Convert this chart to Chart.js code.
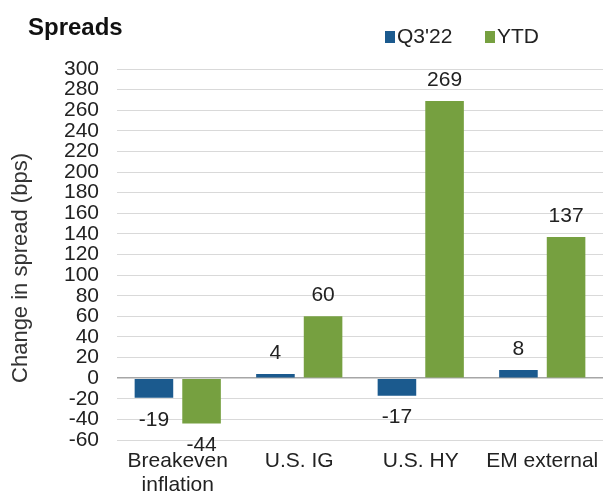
<!DOCTYPE html>
<html>
<head>
<meta charset="utf-8">
<script src="https://cdn.jsdelivr.net/npm/chart.js@4"></script>
<style>
  html, body { margin: 0; padding: 0; background: #ffffff; }
  #wrap { width: 603px; height: 496px; position: relative; }
</style>
</head>
<body>
<div id="wrap"><canvas id="c" width="603" height="496"></canvas></div>
<script>
const chartTitle = 'Spreads';
const categories = [['Breakeven', 'inflation'], 'U.S. IG', 'U.S. HY', 'EM external'];
const seriesNames = ["Q3'22", 'YTD'];
const q3Values = [-19, 4, -17, 8];
const ytdValues = [-44, 60, 269, 137];
const yMin = -60, yMax = 300, yStep = 20;
const yTitle = 'Change in spread (bps)';

const BLUE = '#1B5A8E';
const GREEN = '#76A040';
const FONT = "'Liberation Sans', Arial, sans-serif";

const overlay = {
  id: 'overlay',
  afterDatasetsDraw(chart) {
    const ctx = chart.ctx;
    ctx.save();
    ctx.font = '21px ' + FONT;
    ctx.fillStyle = '#222222';
    ctx.textAlign = 'center';
    ctx.textBaseline = 'middle';
    chart.data.datasets.forEach((ds, di) => {
      const meta = chart.getDatasetMeta(di);
      meta.data.forEach((el, i) => {
        const v = ds.data[i];
        const y = v >= 0 ? el.y - 21 : el.y + 22;
        ctx.fillText(String(v), el.x, y);
      });
    });
    ctx.restore();
  },
  afterDraw(chart) {
    const ctx = chart.ctx;
    ctx.save();
    // title
    ctx.font = 'bold 24px ' + FONT;
    ctx.fillStyle = '#111111';
    ctx.textAlign = 'left';
    ctx.textBaseline = 'middle';
    ctx.fillText(chartTitle, 28, 28);
    // legend
    ctx.font = '21px ' + FONT;
    const items = [
      { x: 385, color: chart.data.datasets[0].backgroundColor, label: chart.data.datasets[0].label },
      { x: 485, color: chart.data.datasets[1].backgroundColor, label: chart.data.datasets[1].label }
    ];
    items.forEach(it => {
      ctx.fillStyle = it.color;
      ctx.fillRect(it.x, 31, 10, 12);
      ctx.fillStyle = '#222222';
      ctx.fillText(it.label, it.x + 12, 37);
    });
    // y axis title
    ctx.translate(21, 268);
    ctx.rotate(-Math.PI / 2);
    ctx.font = '22px ' + FONT;
    ctx.fillStyle = '#333333';
    ctx.textAlign = 'center';
    ctx.textBaseline = 'middle';
    ctx.fillText(yTitle, 0, 0);
    ctx.restore();
  }
};

new Chart(document.getElementById('c'), {
  type: 'bar',
  data: {
    labels: categories,
    datasets: [
      { label: seriesNames[0], data: q3Values, backgroundColor: BLUE },
      { label: seriesNames[1], data: ytdValues, backgroundColor: GREEN }
    ]
  },
  options: {
    responsive: false,
    animation: false,
    devicePixelRatio: 1,
    layout: { padding: { top: 69, left: 0, right: -4, bottom: 0 } },
    datasets: { bar: { categoryPercentage: 0.784, barPercentage: 0.81 } },
    plugins: { legend: { display: false }, title: { display: false }, tooltip: { enabled: false } },
    scales: {
      x: {
        afterFit(scale) { scale.height = 56; scale.paddingLeft = 0; scale.paddingRight = 0; },
        grid: { display: false, drawTicks: false },
        border: { display: false },
        ticks: { color: '#222222', font: { family: FONT, size: 21, lineHeight: 1.15 }, padding: 9, maxRotation: 0, autoSkip: false }
      },
      y: {
        min: yMin, max: yMax,
        afterFit(scale) { scale.width = 117; },
        grid: {
          drawTicks: false,
          color: ctx => (ctx.tick && ctx.tick.value === 0) ? '#a6a6a6' : '#d9d9d9',
          lineWidth: ctx => (ctx.tick && ctx.tick.value === 0) ? 1.5 : 1
        },
        border: { display: false },
        ticks: { stepSize: yStep, color: '#222222', font: { family: FONT, size: 21 }, padding: 18, autoSkip: false },
        title: { display: false }
      }
    }
  },
  plugins: [overlay]
});
</script>
</body>
</html>
